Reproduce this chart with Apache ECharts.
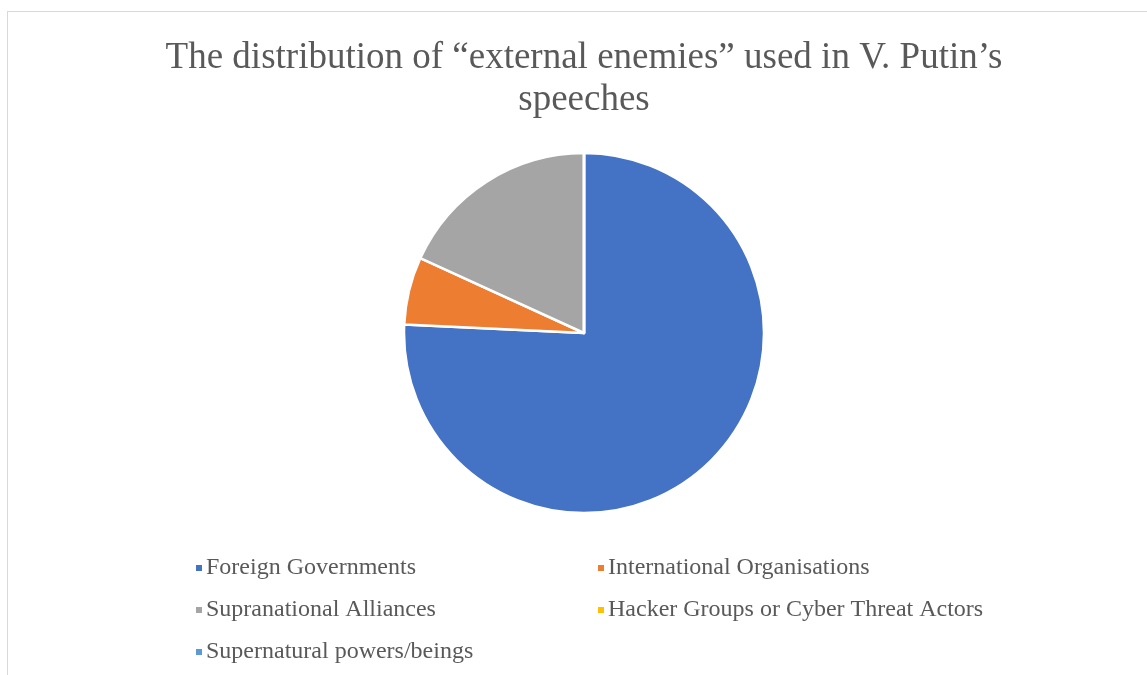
<!DOCTYPE html>
<html><head><meta charset="utf-8">
<script src="https://cdn.jsdelivr.net/npm/echarts@6/dist/echarts.min.js"></script>
<style>
html,body{margin:0;padding:0;background:#fff;overflow:hidden}
#frame{position:absolute;left:7px;top:11px;width:1200px;height:700px;border:1px solid #d9d9d9;box-sizing:border-box}
#c{position:absolute;left:0;top:0;width:1147px;height:675px}
</style></head>
<body><div id="frame"></div><div id="c"></div>
<script>
const titleText = 'The distribution of \u201Cexternal enemies\u201D used in V. Putin\u2019s\nspeeches';
const categories = ['Foreign Governments','International Organisations','Supranational Alliances','Hacker Groups or Cyber Threat Actors','Supernatural powers/beings'];
const values = [25, 2, 6, 0, 0];
const colors = ['#4472C4','#ED7D31','#A5A5A5','#FFC000','#5B9BD5'];

const chart = echarts.init(document.getElementById('c'), null, {renderer:'canvas'});
const font = 'Liberation Serif';
const legendCommon = {
  orient:'vertical', icon:'rect', itemWidth:8, itemHeight:8, itemGap:18,
  textStyle:{fontFamily:font, fontSize:24, color:'#595959', padding:[0,0,0,-2]},
  selectedMode:false
};
chart.setOption({
  animation:false,
  color: colors,
  title:{text:titleText, left:579, textAlign:'center', top:32, textStyle:{fontFamily:font, fontSize:37, fontWeight:'normal', color:'#595959', lineHeight:42}},
  legend:[
    Object.assign({}, legendCommon, {left:189, top:551, data:[categories[0],categories[2],categories[4]]}),
    Object.assign({}, legendCommon, {left:591, top:551, data:[categories[1],categories[3]]})
  ],
  series:[{
    type:'pie', center:[584,333], radius:[0,180], startAngle:90, clockwise:true,
    label:{show:false}, labelLine:{show:false}, emphasis:{disabled:true},
    itemStyle:{borderColor:'#fff', borderWidth:2.5},
    data: categories.map((n,i)=>({name:n, value:values[i]}))
  }]
});
</script></body></html>
